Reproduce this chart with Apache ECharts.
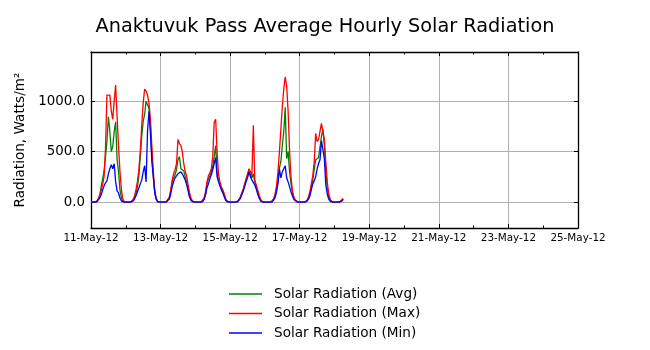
<!DOCTYPE html>
<html>
<head>
<meta charset="utf-8">
<script src="https://cdn.jsdelivr.net/npm/echarts@6/dist/echarts.min.js"></script>
<style>html,body{margin:0;padding:0;background:#fff;}#c{width:650px;height:350px;}</style>
</head>
<body>
<div id="c"></div>
<script>
// Hourly values, starting 11-May-2012 00:00 (one row per day)
var avgVals = [
  0,0,0,0,5,20,60,150,230,300,450,600,845,700,500,550,700,795,420,300,120,40,10,0,
  0,0,0,0,3,15,40,80,150,250,450,650,800,870,1000,990,930,750,450,250,90,25,5,0,
  0,0,0,0,3,10,35,100,200,240,270,320,420,450,330,340,310,250,200,130,60,20,5,0,
  0,0,0,0,2,8,30,80,180,230,260,300,350,450,560,300,210,170,130,100,60,20,3,0,
  0,0,0,0,0,3,15,40,80,120,170,220,260,310,270,240,280,200,150,100,50,20,3,0,
  0,0,0,0,0,3,20,60,130,200,340,400,560,700,940,430,500,300,180,90,40,15,3,0,
  0,0,0,0,2,10,40,80,150,220,320,420,430,440,450,650,720,560,320,150,60,20,3,0,
  0,0,0,0,5,15,30
];
var maxVals = [
  0,0,0,0,10,30,70,120,170,250,530,1060,1065,1060,900,820,1000,1160,850,550,300,120,30,0,
  0,0,0,0,5,20,60,120,200,320,500,760,980,1120,1100,1060,980,820,550,300,120,40,5,0,
  0,0,0,0,5,15,50,120,220,280,320,380,620,580,560,500,380,300,260,170,90,40,10,0,
  0,0,0,0,3,10,40,100,200,260,290,330,450,790,820,500,270,200,150,120,80,30,5,0,
  0,0,0,0,0,5,20,50,90,130,180,230,280,330,300,260,760,220,170,120,70,30,5,0,
  0,0,0,0,0,5,30,80,160,300,500,720,950,1120,1240,1150,900,500,250,110,50,20,5,0,
  0,0,0,0,3,15,50,100,180,260,400,680,600,620,700,780,770,620,400,200,80,30,5,0,
  0,0,0,0,8,20,35
];
var minVals = [
  0,0,0,0,3,15,40,70,120,160,190,210,280,330,370,330,380,200,110,90,40,10,0,0,
  0,0,0,0,2,10,30,60,100,140,180,220,300,360,200,700,900,680,400,250,90,30,5,0,
  0,0,0,0,2,10,30,80,150,200,240,260,280,290,300,280,280,220,170,110,50,15,3,0,
  0,0,0,0,1,5,25,70,140,180,230,270,320,380,440,250,200,160,120,90,50,15,2,0,
  0,0,0,0,0,2,10,35,70,110,150,200,240,300,250,220,230,170,130,80,40,10,2,0,
  0,0,0,0,0,2,15,45,100,180,330,240,300,330,360,240,200,150,100,60,25,8,2,0,
  0,0,0,0,1,5,25,60,120,180,210,250,330,380,420,610,600,430,170,80,30,8,2,0,
  0,0,0,0,3,10,25
];
var seriesNames = ['Solar Radiation (Avg)', 'Solar Radiation (Max)', 'Solar Radiation (Min)'];
var yTicks = [0, 500, 1000];
var startDay = [2012, 4, 11];
var months = ['Jan','Feb','Mar','Apr','May','Jun','Jul','Aug','Sep','Oct','Nov','Dec'];

function toPairs(arr) { return arr.map(function (v, i) { return [i, v]; }); }
function fmtDate(h) {
  var d = new Date(startDay[0], startDay[1], startDay[2] + Math.round(h / 24));
  var dd = ('0' + d.getDate()).slice(-2);
  return dd + '-' + months[d.getMonth()] + '-' + String(d.getFullYear()).slice(-2);
}

var FONT = 'DejaVu Sans';
var chart = echarts.init(document.getElementById('c'), null, { renderer: 'canvas' });
var xCommon = {
  type: 'value', min: 0, max: 336, interval: 48,
  axisLine: { show: true, onZero: false, lineStyle: { color: '#000', width: 1.3 } },
  axisTick: { show: true, inside: true, length: 4, lineStyle: { color: '#000' } },
  minorTick: { show: true, splitNumber: 2, length: 2.5, lineStyle: { color: '#000' } }
};
var yCommon = {
  type: 'value', min: -257, max: 1487,
  axisLine: { show: true, onZero: false, lineStyle: { color: '#000', width: 1.3 } },
  axisTick: { show: true, inside: true, length: 4, customValues: yTicks, lineStyle: { color: '#000' } }
};
chart.setOption({
  animation: false,
  backgroundColor: '#fff',
  title: {
    text: 'Anaktuvuk Pass Average Hourly Solar Radiation',
    left: 'center', top: 12,
    textStyle: { fontFamily: FONT, fontSize: 19.3, fontWeight: 'normal', color: '#000' }
  },
  grid: { left: 91, top: 52, width: 487, height: 176, show: false },
  legend: {
    orient: 'vertical', left: 224, top: 281,
    itemWidth: 33, itemHeight: 1.5, itemGap: 3.5, icon: 'rect',
    textStyle: { fontFamily: FONT, fontSize: 13.6, color: '#000', lineHeight: 16, padding: [0, 0, 0, 7] },
    data: seriesNames
  },
  xAxis: [
    Object.assign({}, xCommon, {
      position: 'bottom',
      axisLabel: { show: true, margin: 5, fontFamily: FONT, fontSize: 10.4, color: '#000', formatter: fmtDate, showMinLabel: true, showMaxLabel: true },
      splitLine: { show: true, lineStyle: { color: '#b0b0b0', width: 1 } }
    }),
    Object.assign({}, xCommon, {
      position: 'top',
      axisLabel: { show: false },
      splitLine: { show: false }
    })
  ],
  yAxis: [
    Object.assign({}, yCommon, {
      position: 'left',
      name: 'Radiation, Watts/m²', nameLocation: 'middle', nameRotate: 90, nameGap: 43,
      nameTextStyle: { fontFamily: FONT, fontSize: 13.6, color: '#000' },
      axisLabel: { show: true, margin: 6, fontFamily: FONT, fontSize: 13.33, color: '#000', customValues: yTicks,
        formatter: function (v) { return v.toFixed(1); } },
      splitLine: { show: true, lineStyle: { color: '#b0b0b0', width: 1 } }
    }),
    Object.assign({}, yCommon, {
      position: 'right',
      axisLabel: { show: false },
      splitLine: { show: false }
    })
  ],
  series: [
    { name: seriesNames[0], type: 'line', data: toPairs(avgVals), showSymbol: false, symbol: 'none',
      color: '#008000', lineStyle: { color: '#008000', width: 1.3 }, z: 3 },
    { name: seriesNames[1], type: 'line', data: toPairs(maxVals), showSymbol: false, symbol: 'none',
      color: '#ff0000', lineStyle: { color: '#ff0000', width: 1.3 }, z: 4 },
    { name: seriesNames[2], type: 'line', data: toPairs(minVals), showSymbol: false, symbol: 'none',
      color: '#0000ff', lineStyle: { color: '#0000ff', width: 1.3 }, z: 5 }
  ]
});
</script>
</body>
</html>
